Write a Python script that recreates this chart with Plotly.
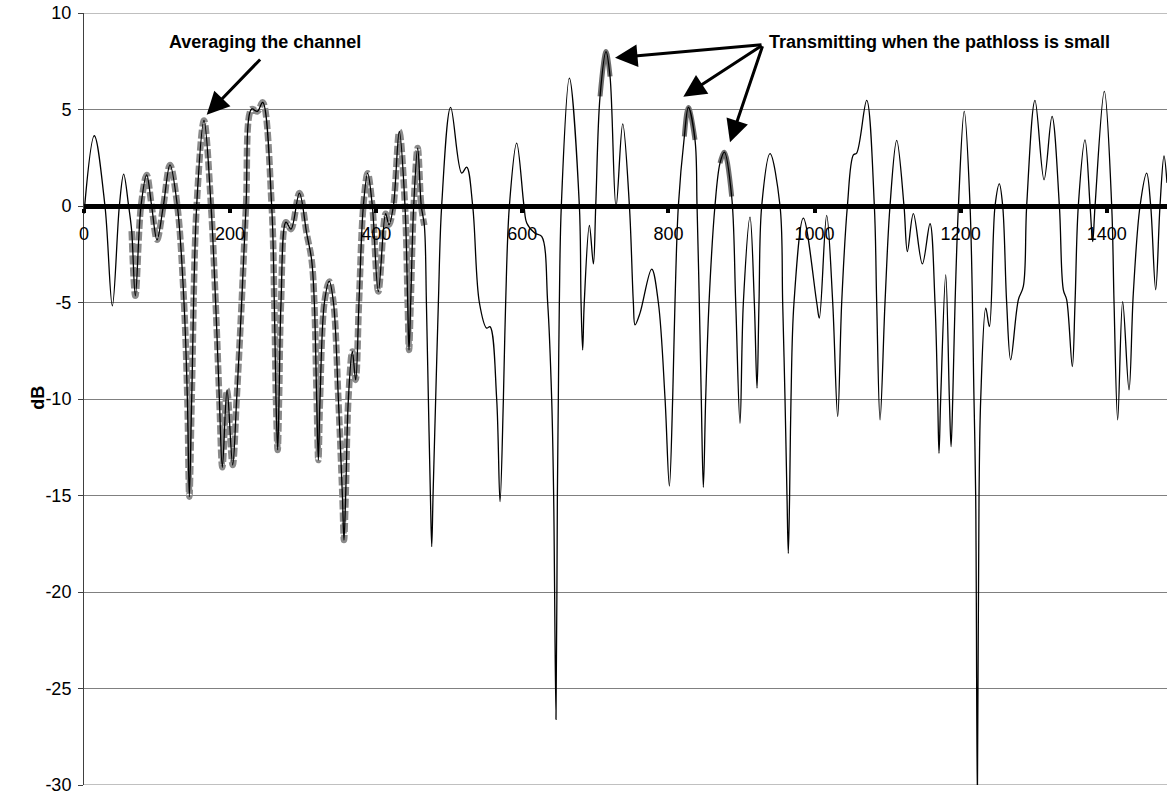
import plotly.graph_objects as go

# ---- data ----
sample_x = [0, 14.1, 28.7, 38.8, 48.4, 54.3, 61.1, 65.3, 70.3, 78.0, 85.8, 92.6, 99.9, 108.6,
            117.7, 127.8, 136.9, 141.5, 144.2, 147.4, 154.2, 164.3, 173.9, 180.2, 185.3, 189.4,
            195.8, 203.5, 209.0, 215.8, 221.8, 229.5, 237.3, 244.6, 256.9, 260.5, 262.8, 265.1,
            267.0, 269.7, 276.5, 283.4, 294.8, 304.8, 311.6, 315.3, 318.5, 320.8, 323.1, 329.1,
            335.8, 341.5, 348.2, 353.7, 355.9, 358.2, 361.9, 367.3, 371.9, 376.4, 382.4, 388.3,
            394.7, 402.9, 412.9, 417.5, 423.5, 431.6, 439.4, 443.1, 444.9, 447.2, 451.3, 456.8,
            461.7, 465.9, 468.7, 471.4, 474.2, 476.0, 477.8, 481.4, 485.1, 489.6, 501.9, 517.0,
            523.8, 532.1, 541.2, 551.2, 555.8, 564.9, 569.5, 574.1, 577.2, 582.3, 592.3, 602.3,
            606.2, 617.4, 626.5, 634.7, 640.2, 642.9, 646.1, 648.0, 649.3, 650.7, 653.4, 664.4,
            678.1, 680.4, 682.6, 684.8, 691.8, 697.3, 700.5, 706.4, 714.6, 720.1, 728.3, 737.4,
            746.6, 752.0, 754.3, 761.1, 777.1, 786.2, 795.4, 801.3, 805.8, 809.0, 813.6, 821.8,
            827.3, 836.4, 839.2, 842.3, 845.0, 847.8, 851.0, 855.6, 863.7, 870.6, 876.6, 886.6,
            892.1, 898.0, 902.6, 911.7, 917.6, 921.3, 924.0, 927.7, 939.1, 952.8, 956.4, 959.6,
            962.3, 964.1, 965.9, 967.8, 971.9, 984.7, 1003.0, 1006.6, 1016.6, 1024.9, 1031.7,
            1037.2, 1045.0, 1053.2, 1057.7, 1071.4, 1081.9, 1085.1, 1089.7, 1096.5, 1103.3,
            1112.5, 1122.5, 1127.1, 1135.3, 1147.6, 1158.1, 1164.9, 1168.6, 1170.4, 1172.7,
            1179.6, 1184.6, 1186.9, 1189.2, 1192.4, 1197.0, 1204.9, 1212.9, 1218.3, 1220.6,
            1222.9, 1225.2, 1227.5, 1234.4, 1239.4, 1247.1, 1253.0, 1257.6, 1263.0, 1268.5,
            1279.0, 1285.8, 1290.4, 1301.8, 1314.2, 1325.1, 1335.2, 1340.6, 1345.2, 1352.9,
            1356.6, 1361.1, 1370.3, 1377.2, 1380.8, 1384.0, 1396.7, 1406.8, 1410.0, 1415.0,
            1421.8, 1430.5, 1436.4, 1445.6, 1454.7, 1460.2, 1467.0, 1472.9, 1478.4, 1482.5]

db_vals = [-0.4, 3.64, 0, -5.17, 0, 1.65, 0, -1.3, -4.65, 0, 1.61, 0, -1.75, 0,
           2.13, 0, -5, -10, -15.06, -10, 0, 4.43, 0, -5, -10, -13.54,
           -9.53, -13.42, -10, -5, 0, 5.02, 4.9, 5.37, 0, -5, -10, -12.64,
           -10, -5, -0.84, -1.2, 0.67, -1.41, -2.79, -5, -10, -13.16, -10, -5,
           -3.91, -5, -10, -15, -17.31, -15, -10, -7.54, -9.01, -5, 0, 1.70,
           0, -4.43, -0.4, -0.97, 0, 3.86, 0, -5, -7.46, -5, 0, 3.0,
           0, -1.0, -5, -10, -15, -17.65, -15, -10, -5, 0, 5.11, 1.70,
           2.01, 0, -5, -6.33, -6.25, -10, -15.32, -10, -5, 0, 3.26, 0,
           -0.89, -1.41, -1.58, -5, -10, -15, -26.6, -15, -10, -5, 0, 6.63,
           0, -5, -7.46, -5, -1.01, -3.0, 0, 5.68, 8.0, 6.71, -0.05, 4.26,
           0, -5, -6.16, -5.55, -3.27, -5, -10, -14.51, -10, -5, 0, 3.6,
           5.11, 3.43, 0, -5, -10, -14.58, -10, -5, 0, 2.22, 2.79, 0.49,
           -5, -11.26, -5, -0.58, -5, -9.44, -5, 0, 2.71, 0, -5, -10,
           -15, -18.0, -15, -10, -5, -0.63, -5, -5.81, -0.49, -5, -10.91,
           -5, 0, 2.65, 2.74, 5.47, 0, -5, -11.08, -5, 0,
           3.40, 0, -2.36, -0.40, -3.0, -0.92, -5, -10, -12.81, -10,
           -3.57, -10, -12.47, -10, -5, 0, 4.90, 0, -10, -15,
           -31, -15, -10, -5.29, -6.25, 0, 1.15, 0, -5, -7.97,
           -4.86, -4.17, 0, 5.47, 1.36, 4.64, 0, -4.34, -4.86, -8.32,
           -5, 0, 3.43, 0, -1.84, 0, 5.94, 0, -5, -11.08,
           -4.95, -9.53, -4.52, 0, 1.70, 0, -4.34, 0, 2.60, 1.2]

# sample windows of the highlighted series
avg_window = (65.3, 465.9)
tx_windows = [(706.4, 720.1), (821.8, 836.4), (870.6, 886.6)]

tick_vals = [0, 200, 400, 600, 800, 1000, 1200, 1400]
tick_text = ["0", "200", "400", "600", "800", "1000", "1200", "1400"]
y_tick_vals = [10, 5, 0, -5, -10, -15, -20, -25, -30]
y_tick_text = ["10", "5", "0", "-5", "-10", "-15", "-20", "-25", "-30"]
y_min, y_max = -30, 10


def window(lo, hi):
    xs, ys = [], []
    for a, b in zip(sample_x, db_vals):
        if lo - 1e-9 <= a <= hi + 1e-9:
            xs.append(a)
            ys.append(b)
    return xs, ys


FONT = "Arial, Liberation Sans, sans-serif"
FS = 18
fig = go.Figure()

ax_, ay_ = window(*avg_window)
fig.add_trace(go.Scatter(x=ax_, y=ay_, mode="lines",
                         line=dict(color="#8a8a8a", width=6.5, dash="9px,3px",
                                   shape="spline", smoothing=1.0),
                         hoverinfo="skip", showlegend=False))
for lo, hi in tx_windows:
    tx, ty = window(lo, hi)
    fig.add_trace(go.Scatter(x=tx, y=ty, mode="lines",
                             line=dict(color="#6e6e6e", width=5, shape="spline", smoothing=1.0),
                             hoverinfo="skip", showlegend=False))

fig.add_trace(go.Scatter(x=sample_x, y=db_vals, mode="lines",
                         line=dict(color="black", width=1.3, shape="spline", smoothing=1.0),
                         showlegend=False))

fig.update_layout(
    width=1167, height=795,
    margin=dict(l=84, r=0, t=13, b=10, autoexpand=False),
    paper_bgcolor="white", plot_bgcolor="white",
    font=dict(family=FONT, size=FS, color="black"),
    xaxis=dict(range=[0, 1482.5], anchor="free", position=0.75, automargin=False,
               showgrid=False, zeroline=False,
               showline=True, linecolor="black", linewidth=5,
               ticks="outside", ticklen=4, tickwidth=4, tickcolor="black",
               ticklabelstandoff=5,
               tickvals=tick_vals, ticktext=tick_text,
               tickfont=dict(family=FONT, size=FS, color="black")),
    yaxis=dict(range=[y_min, y_max], tickvals=y_tick_vals, ticktext=y_tick_text,
               automargin=False, ticklabeloverflow="allow",
               showgrid=True, gridcolor="#808080", gridwidth=1,
               zeroline=False, showline=True, linecolor="#404040", linewidth=1,
               ticks="outside", ticklen=5, tickcolor="#404040",
               ticklabelstandoff=3,
               tickfont=dict(family=FONT, size=FS, color="black")),
)

# top and bottom grid lines (range edges)
for yv in (y_min, y_max):
    fig.add_shape(type="line", xref="paper", yref="y", x0=0, x1=1, y0=yv, y1=yv,
                  line=dict(color="#808080", width=1), layer="below")

annotations = [
    dict(xref="paper", yref="paper", x=-0.0425, y=0.5015, xanchor="center", yanchor="middle",
         text="<b>dB</b>", textangle=-90, showarrow=False, font=dict(size=FS)),
    dict(xref="x", yref="y", x=247.1, y=8.49, text="<b>Averaging the channel</b>",
         showarrow=False, font=dict(size=FS)),
    dict(xref="x", yref="y", x=1171.7, y=8.49, text="<b>Transmitting when the pathloss is small</b>",
         showarrow=False, font=dict(size=FS)),
]
arrows = [((168.0, 4.73), (243.1, 7.67)),
          ((726.9, 7.68), (929.5, 8.36)),
          ((820.4, 5.66), (929.5, 8.36)),
          ((884.3, 3.30), (929.5, 8.36))]
for (hx, hy), (tx, ty) in arrows:
    annotations.append(dict(xref="x", yref="y", axref="x", ayref="y",
                            x=hx, y=hy, ax=tx, ay=ty, text="",
                            showarrow=True, arrowhead=2, arrowsize=1.5,
                            arrowwidth=3, arrowcolor="black", standoff=0))
fig.update_layout(annotations=annotations)

fig.write_html("out.html",
               config={"displayModeBar": False},
               post_script="document.body.style.margin='0px';document.body.style.padding='0px';")
